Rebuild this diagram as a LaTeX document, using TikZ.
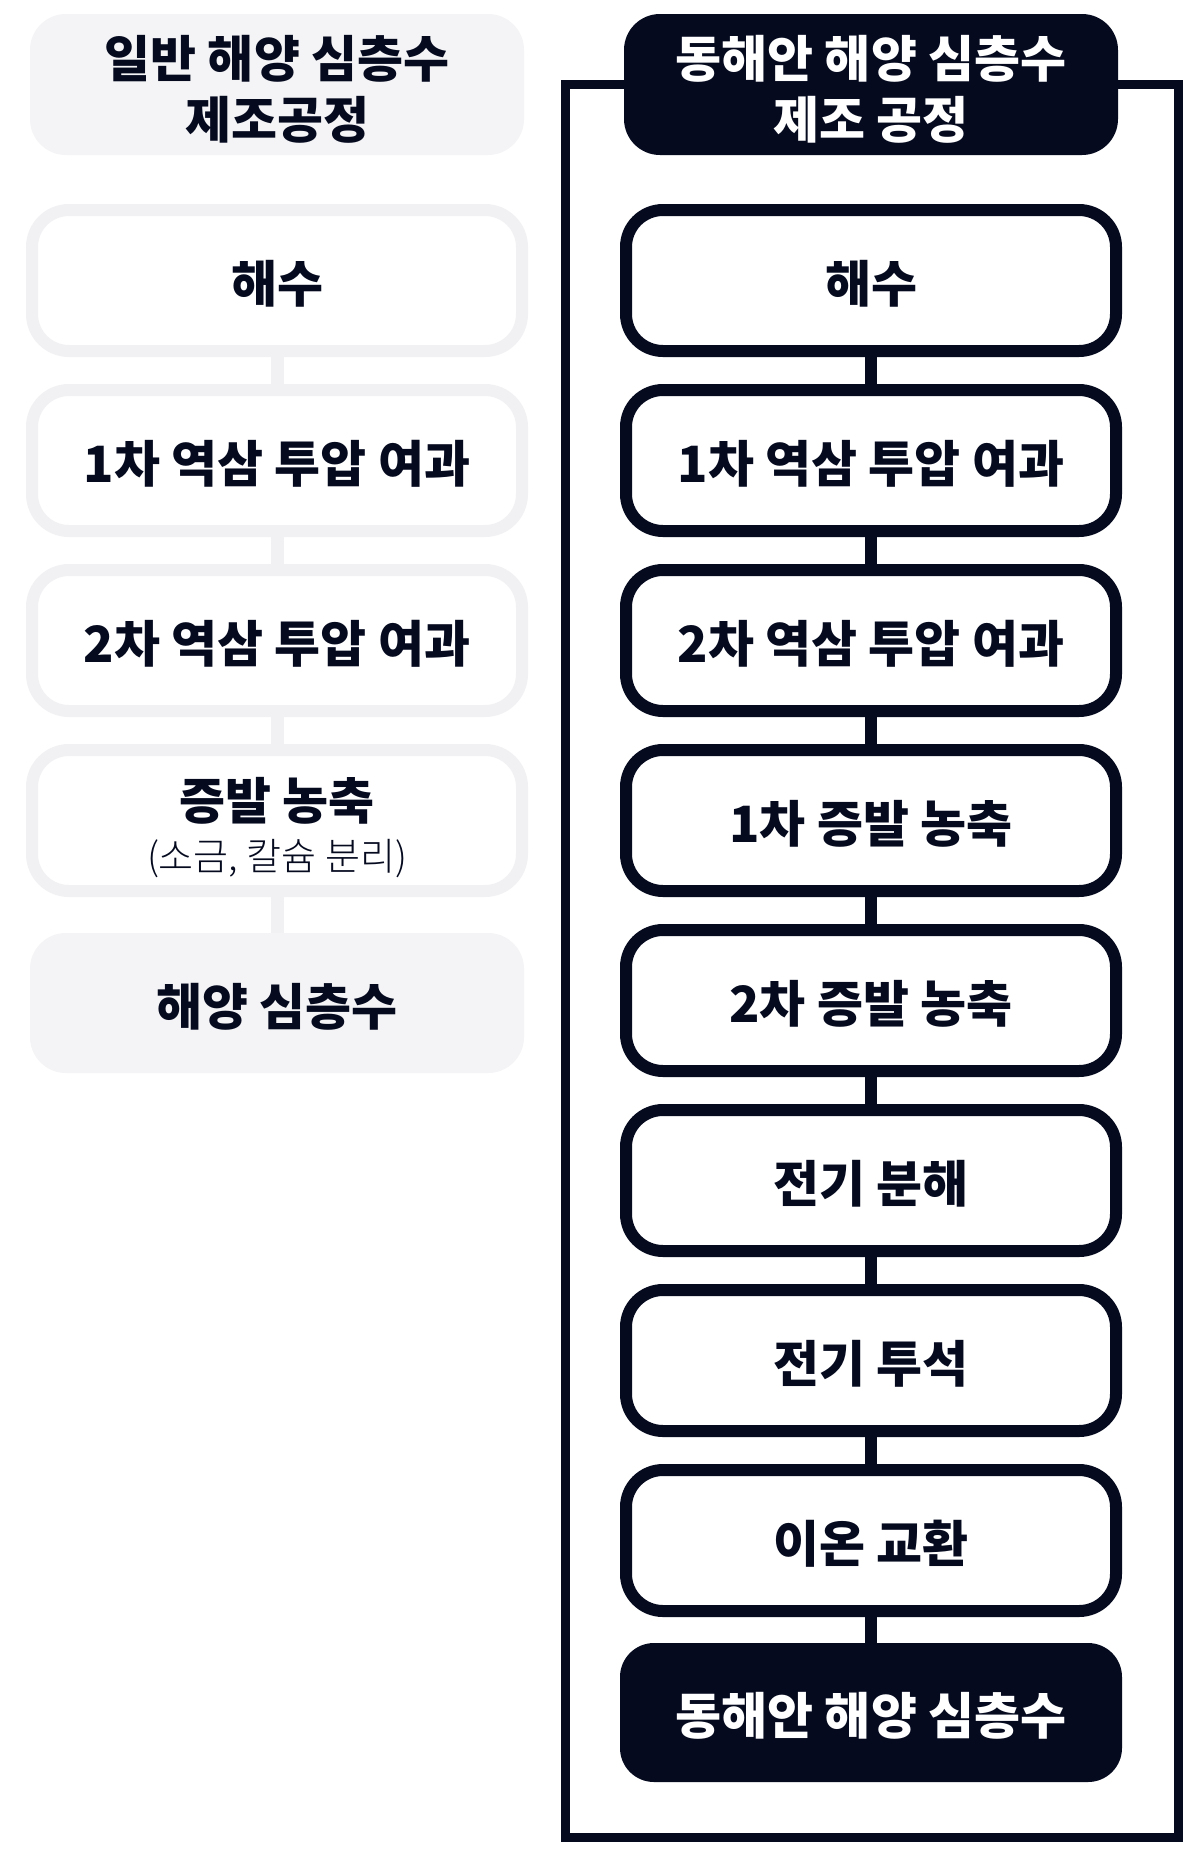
\documentclass[tikz,border=0pt]{standalone}
\usepackage{fontspec}
\setmainfont{Noto Sans CJK KR}
\newfontfamily\krlight{Noto Sans CJK KR Light}
\definecolor{navy}{HTML}{050A1F}
\definecolor{lgray}{HTML}{F4F4F6}
\definecolor{lborder}{HTML}{F1F1F3}
\begin{document}
\begin{tikzpicture}[x=1pt,y=-1pt,
  txt/.style={font=\bfseries\fontsize{50}{61}\selectfont, text=navy, align=center, inner sep=0pt},
  boxtxt/.style={txt, text height=44pt, text depth=0pt},
  boxbase/.style={boxtxt, line width=12pt, fill=white, rounded corners=37pt, minimum width=490pt, minimum height=141pt},
  lbox/.style={boxbase, draw=lborder},
  rbox/.style={boxbase, draw=navy},
  headbase/.style={txt, rounded corners=36pt, minimum width=494pt, minimum height=141pt},
  lhead/.style={headbase, fill=lgray},
  rhead/.style={headbase, fill=navy, text=white},
  lend/.style={boxtxt, fill=lgray, rounded corners=36pt, minimum width=494pt, minimum height=140pt},
  rend/.style={boxtxt, fill=navy, text=white, rounded corners=34pt, minimum width=502pt, minimum height=139pt},
  lconn/.style={draw=lborder, line width=13pt},
  rconn/.style={draw=navy, line width=12pt},
  frame/.style={draw=navy, line width=9pt},
  subtxt/.style={font=\krlight\fontsize{38}{44}\selectfont, text=navy, inner sep=0pt}
]
\useasboundingbox (0,0) rectangle (1200,1853);
\fill[white] (0,0) rectangle (1200,1853);

% outer frame of the right column
\draw[frame] (565,84.5) rectangle (1178.5,1837.5);

% left column
\node[lhead] (lh) at (277,84.5) {};
\node[txt] (lht) at (277,89) {일반 해양 심층수\\제조공정};
\node[lbox] (l1) at (277,280.5) {해수};
\node[lbox] (l2) at (277,460.5) {1차 역삼 투압 여과};
\node[lbox] (l3) at (277,640.5) {2차 역삼 투압 여과};
\node[lbox] (l4) at (277,820.5) {};
\node[txt] (l4a) at (277,801) {증발 농축};
\node[subtxt] (l4b) at (277,859) {(소금, 칼슘 분리)};
\node[lend] (l5) at (277,1003) {해양 심층수};

\draw[lconn] (l1.south) -- (l2.north);
\draw[lconn] (l2.south) -- (l3.north);
\draw[lconn] (l3.south) -- (l4.north);
\draw[lconn] (l4.south) -- (l5.north);

% right column
\node[rhead] (rh) at (871,84.5) {};
\node[txt, text=white] (rht) at (871,89) {동해안 해양 심층수\\제조 공정};
\node[rbox] (r1) at (871,280.5) {해수};
\node[rbox] (r2) at (871,460.5) {1차 역삼 투압 여과};
\node[rbox] (r3) at (871,640.5) {2차 역삼 투압 여과};
\node[rbox] (r4) at (871,820.5) {1차 증발 농축};
\node[rbox] (r5) at (871,1000.5) {2차 증발 농축};
\node[rbox] (r6) at (871,1180.5) {전기 분해};
\node[rbox] (r7) at (871,1360.5) {전기 투석};
\node[rbox] (r8) at (871,1540.5) {이온 교환};
\node[rend] (rf) at (871,1712.5) {동해안 해양 심층수};

\draw[rconn] (r1.south) -- (r2.north);
\draw[rconn] (r2.south) -- (r3.north);
\draw[rconn] (r3.south) -- (r4.north);
\draw[rconn] (r4.south) -- (r5.north);
\draw[rconn] (r5.south) -- (r6.north);
\draw[rconn] (r6.south) -- (r7.north);
\draw[rconn] (r7.south) -- (r8.north);
\draw[rconn] (r8.south) -- (rf.north);
\end{tikzpicture}
\end{document}
